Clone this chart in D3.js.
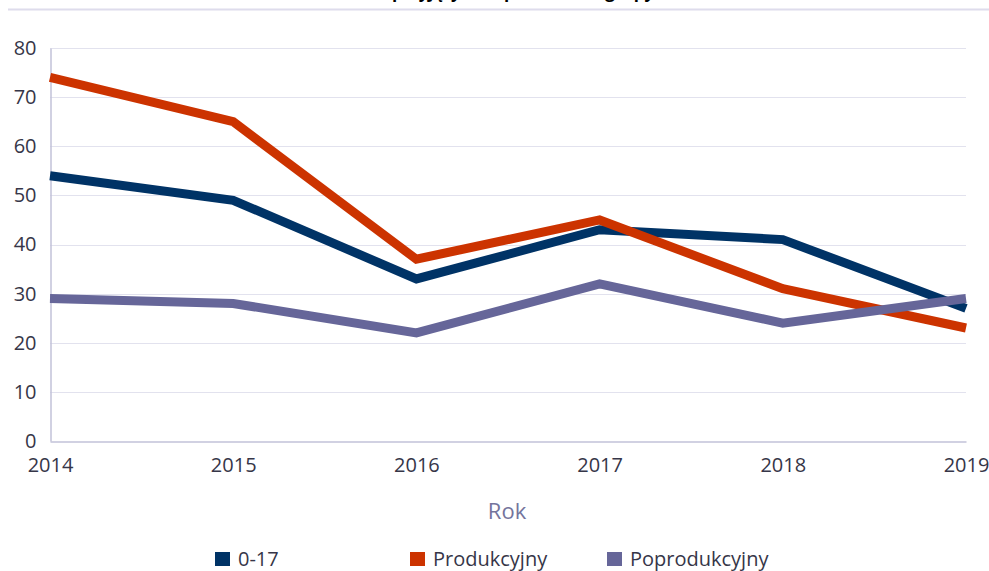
<!DOCTYPE html>
<html>
<head>
<meta charset="utf-8">
<script src="https://cdn.jsdelivr.net/npm/d3@7"></script>
<style>
  html, body { margin: 0; padding: 0; background: #fff; }
  svg { display: block; font-family: "Open Sans", "Noto Sans", sans-serif; }
</style>
</head>
<body>
<svg id="chart" width="989" height="571"></svg>
<script>
;(function () {

  'use strict';

  var years = [2014, 2015, 2016, 2017, 2018, 2019];
  var yTicks = [0, 10, 20, 30, 40, 50, 60, 70, 80];

  var przed = [54, 49, 33, 43, 41, 27];
  var prod = [74, 65, 37, 45, 31, 23];
  var poprod = [29, 28, 22, 32, 24, 29];

  var series = [
    { key: '0-17', color: '#003366', values: przed },
    { key: 'Produkcyjny', color: '#cc3300', values: prod },
    { key: 'Poprodukcyjny', color: '#666699', values: poprod }
  ];

  var svg = d3.select('#chart');

  var x = d3.scalePoint().domain(years).range([50, 966]);
  var y = d3.scaleLinear().domain([0, 80]).range([441, 48]);

  // title is cut off at the top of the picture, as in the source
  svg.append('text')
    .attr('x', 500)
    .attr('y', -2)
    .attr('text-anchor', 'middle')
    .style('font-size', '17px')
    .style('font-weight', 'bold')
    .style('fill', '#000')
    .text('Liczba osób przyjętych w podziale na grupy wieku');

  svg.append('line')
    .attr('x1', 8).attr('x2', 989)
    .attr('y1', 9.5).attr('y2', 9.5)
    .style('stroke', '#dedcec')
    .style('stroke-width', 2);

  // grid
  svg.append('g')
    .selectAll('line')
    .data(yTicks.filter(function (d) { return d > 0; }))
    .enter().append('line')
    .attr('x1', 50).attr('x2', 966)
    .attr('y1', function (d) { return Math.round(y(d)) + 0.5; })
    .attr('y2', function (d) { return Math.round(y(d)) + 0.5; })
    .style('stroke', '#e2e2ee')
    .style('stroke-width', 1);

  // axes
  var yAxis = svg.append('g')
    .attr('transform', 'translate(50.5,0)')
    .call(d3.axisLeft(y).tickValues(yTicks).tickSize(0).tickPadding(14));

  var xAxis = svg.append('g')
    .attr('transform', 'translate(0,441.5)')
    .call(d3.axisBottom(x).tickSize(0).tickPadding(16).tickFormat(d3.format('d')));

  [yAxis, xAxis].forEach(function (g) {
    g.select('.domain').style('stroke', '#c2c2d8').style('stroke-width', 1.5);
    g.selectAll('text')
      .style('font-size', '20px')
      .style('fill', '#363648')
      .style('font-family', '"Open Sans", "Noto Sans", sans-serif');
  });

  svg.append('text')
    .attr('x', 507)
    .attr('y', 519)
    .attr('text-anchor', 'middle')
    .style('font-size', '22px')
    .style('fill', '#74749c')
    .text('Rok');

  // lines
  var line = d3.line()
    .x(function (d, i) { return x(years[i]); })
    .y(function (d) { return y(d); });

  svg.append('g')
    .selectAll('path')
    .data(series)
    .enter().append('path')
    .attr('d', function (d) { return line(d.values); })
    .style('fill', 'none')
    .style('stroke', function (d) { return d.color; })
    .style('stroke-width', 9)
    .style('stroke-linejoin', 'miter')
    .style('stroke-linecap', 'butt');

  // legend
  var legendX = [215, 410, 607];
  var legend = svg.append('g')
    .selectAll('g')
    .data(series)
    .enter().append('g')
    .attr('transform', function (d, i) { return 'translate(' + legendX[i] + ',550)'; });

  legend.append('rect')
    .attr('width', 15).attr('height', 14)
    .attr('y', 2)
    .style('fill', function (d) { return d.color; });

  legend.append('text')
    .attr('x', 23)
    .attr('y', 16)
    .style('font-size', '20px')
    .style('fill', '#363648')
    .text(function (d) { return d.key; });

})();
</script>
</body>
</html>
